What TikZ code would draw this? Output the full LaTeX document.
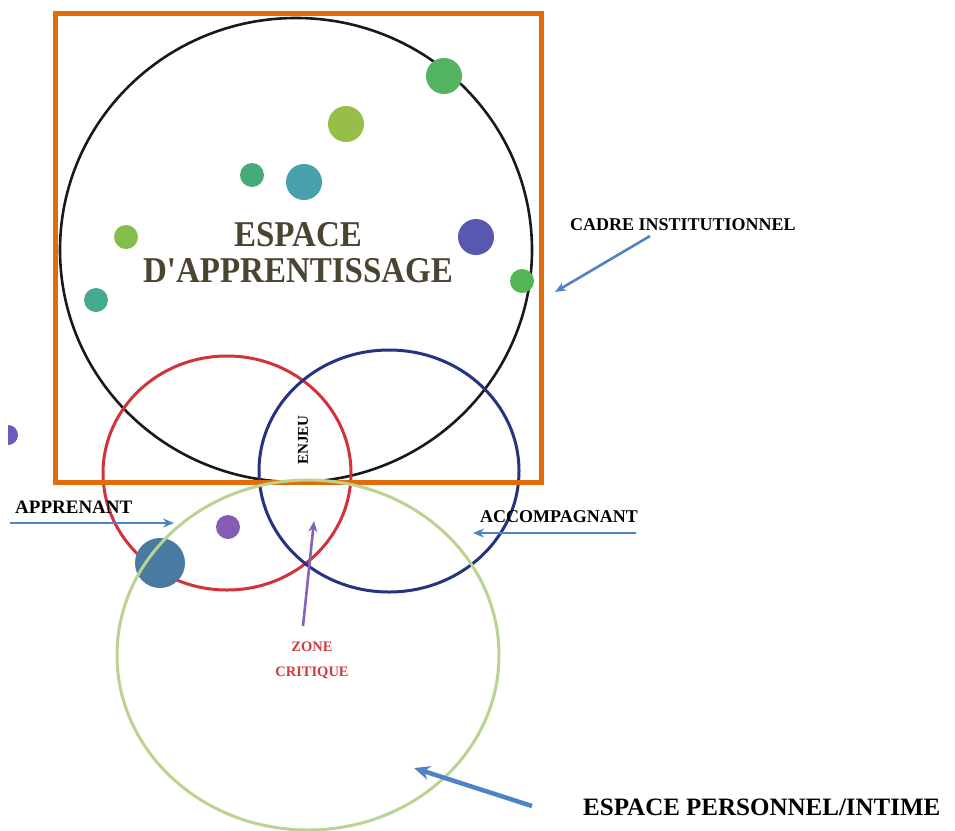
\documentclass[tikz,border=0pt]{standalone}
\usepackage{fontspec}
\setmainfont{Liberation Serif}
\usetikzlibrary{arrows.meta}
\definecolor{orangeframe}{HTML}{E36C0A}
\definecolor{redring}{HTML}{D2333B}
\definecolor{bluering}{HTML}{25347F}
\definecolor{greenring}{HTML}{BBD390}
\definecolor{arrowblue}{HTML}{4F83C4}
\definecolor{arrowpurple}{HTML}{8462B5}
\definecolor{titlecol}{HTML}{4A4430}
\definecolor{zonered}{HTML}{D23A3F}
\tikzset{
  lbl/.style={font=\bfseries\fontsize{18}{20}\selectfont, text=black, inner sep=0pt},
  bluearrow/.style={draw=arrowblue, line width=2.6pt, -{Stealth[length=11pt,width=9pt]}},
  ring/.style={line width=3pt},
}
\begin{document}
\begin{tikzpicture}[x=1pt,y=-1pt]
\useasboundingbox[fill=white] (0,0) rectangle (955,830);
% circles
\draw[ring, draw=black!90, line width=2.6pt] (296,250) ellipse [x radius=236pt, y radius=232pt];
\draw[ring, draw=redring] (227,473) ellipse [x radius=124pt, y radius=117pt];
\draw[ring, draw=bluering] (389,471) ellipse [x radius=130pt, y radius=121pt];
% frame
\draw[draw=orangeframe, line width=5pt] (55,13) rectangle (541,482);
% dots
\fill[color={rgb,255:red,82;green,180;blue,96}] (444,76) circle[radius=18pt];
\fill[color={rgb,255:red,150;green,190;blue,72}] (346,124) circle[radius=18pt];
\fill[color={rgb,255:red,70;green,170;blue,122}] (252,175) circle[radius=12pt];
\fill[color={rgb,255:red,72;green,160;blue,172}] (304,182) circle[radius=18pt];
\fill[color={rgb,255:red,132;green,190;blue,74}] (126,237) circle[radius=12pt];
\fill[color={rgb,255:red,88;green,88;blue,178}] (476,237) circle[radius=18pt];
\fill[color={rgb,255:red,82;green,182;blue,86}] (522,281) circle[radius=12pt];
\fill[color={rgb,255:red,70;green,170;blue,144}] (96,300) circle[radius=12pt];
\fill[color={rgb,255:red,132;green,92;blue,180}] (228,527) circle[radius=12pt];
\fill[color={rgb,255:red,72;green,122;blue,162}] (160,563) circle[radius=25pt];
\begin{scope}
\clip (8,420) rectangle (30,450);
\fill[color={rgb,255:red,110;green,90;blue,190}] (8,435) circle[radius=10pt];
\end{scope}
% green ring on top
\draw[ring, draw=greenring] (308,655) ellipse [x radius=191pt, y radius=175pt];
% texts
\node[font=\bfseries\fontsize{33}{33}\selectfont, text=titlecol, align=center, yscale=1.1, inner sep=0pt] (title) at (298,253) {ESPACE\\D\textquotesingle APPRENTISSAGE};
\node[lbl, anchor=base west] (cadre) at (570,230) {CADRE INSTITUTIONNEL};
\node[lbl, font=\bfseries\fontsize{19}{20}\selectfont, anchor=base west] (appr) at (15,513) {APPRENANT};
\node[lbl, anchor=base west] (accomp) at (480,522) {ACCOMPAGNANT};
\node[lbl, font=\bfseries\fontsize{15}{16}\selectfont, rotate=90] (enjeu) at (303,440) {ENJEU};
\node[lbl, font=\bfseries\fontsize{14.5}{25}\selectfont, text=zonered, align=center] (zone) at (312,660) {ZONE\\CRITIQUE};
\node[lbl, font=\bfseries\fontsize{25}{26}\selectfont, anchor=base west] (perso) at (583,815) {ESPACE PERSONNEL/INTIME};
% arrow endpoints
\coordinate (cadreS) at (650,236);
\coordinate (cadreT) at (555,292);
\coordinate (apprS) at (10,523);
\coordinate (apprT) at (174,523);
\coordinate (accS) at (636,533);
\coordinate (accT) at (473,533);
\coordinate (persoS) at (532,806);
\coordinate (persoT) at (414,768);
\coordinate (zoneS) at (303,626);
\coordinate (zoneT) at (314,521);
\draw[bluearrow] (cadreS) -- (cadreT);
\draw[bluearrow] (apprS) -- (apprT);
\draw[bluearrow] (accS) -- (accT);
\draw[bluearrow, line width=4.5pt, -{Stealth[length=16pt,width=14pt]}] (persoS) -- (persoT);
\draw[draw=arrowpurple, line width=2.6pt, -{Stealth[length=11pt,width=9pt]}] (zoneS) -- (zoneT);
\end{tikzpicture}
\end{document}
